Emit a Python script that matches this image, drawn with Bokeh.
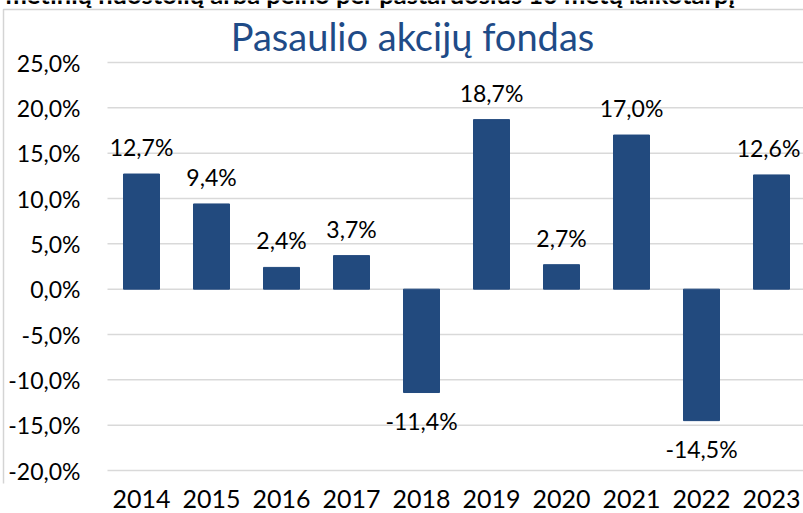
from bokeh.plotting import figure
from bokeh.models import Range1d, FixedTicker, ColumnDataSource
from bokeh.core.properties import value
from bokeh.embed import file_html
from bokeh.resources import INLINE

years = ["2014", "2015", "2016", "2017", "2018", "2019", "2020", "2021", "2022", "2023"]
returns = [12.7, 9.4, 2.4, 3.7, -11.4, 18.7, 2.7, 17.0, -14.5, 12.6]
y_ticks = [-20, -15, -10, -5, 0, 5, 10, 15, 20, 25]
title_text = "Pasaulio akcijų fondas"
top_text = "metinių nuostolių arba pelno per pastaruosius 10 metų laikotarpį"

FONT = "Lato"
BAR = "#224A7E"
GRID = "#d9d9d9"

W, H = 803, 513
FRAME_BOTTOM = 483          # pixel row of the frame bottom (x axis sits below)
CAT_PX = 70                 # pixels per category
FIRST_CAT_PX = 106          # left edge of first category slot
PX_PER_UNIT = 408 / 45      # pixels per percentage point


def xd(px):
    return (px - FIRST_CAT_PX) / CAT_PX - 0.5


def yd(py):
    return 25 - (py - 62) / PX_PER_UNIT


def pct(v):
    return ("%.1f%%" % v).replace(".", ",")


xs = list(range(len(years)))
src = ColumnDataSource(dict(
    x=xs,
    top=returns,
    label=[pct(v) for v in returns],
    yoff=[-27 if v >= 0 else 28 for v in returns],
    xoff=[0] * (len(xs) - 1) + [-3],
))

p = figure(width=W, height=H, output_backend="svg", toolbar_location=None,
           x_range=Range1d(xd(0), xd(W)), y_range=Range1d(yd(FRAME_BOTTOM), yd(0)),
           min_border_left=0, min_border_right=0, min_border_top=0, min_border_bottom=H - FRAME_BOTTOM,
           background_fill_color="white", border_fill_color="white")
p.outline_line_color = None
p.grid.visible = False
p.yaxis.visible = False

# chart border (light grey box, partly outside the window)
p.line(x=[xd(3), xd(3), xd(W + 20)], y=[yd(H + 20), yd(9), yd(9)],
       line_color="#d4d4d4", line_width=1.5)

# horizontal gridlines
p.segment(x0=[xd(107)] * len(y_ticks), x1=[xd(W + 5)] * len(y_ticks),
          y0=y_ticks, y1=y_ticks, line_color=GRID, line_width=1.5)

# y tick labels
p.text(x=[xd(80)] * len(y_ticks), y=y_ticks, text=[pct(t) for t in y_ticks],
       text_font=value(FONT), text_font_size="23px", text_color="#000000",
       text_align="right", text_baseline="middle")

# bars and value labels
p.vbar(x="x", top="top", bottom=0, width=36 / CAT_PX, source=src, color=BAR)
p.text(x="x", y="top", text="label", x_offset="xoff", y_offset="yoff", source=src,
       text_font=value(FONT), text_font_size="23px", text_color="#000000",
       text_align="center", text_baseline="middle")

# title
p.text(x=[xd(412)], y=[yd(35)], text=[title_text],
       text_font=value(FONT), text_font_size="38px", text_color="#1F4B87",
       text_align="center", text_baseline="middle")

# cut-off header line above the chart
p.text(x=[xd(5)], y=[yd(-7)], text=[top_text],
       text_font=value(FONT), text_font_size="25.5px", text_font_style="bold",
       text_color="#000000", text_align="left", text_baseline="alphabetic")

# x axis with year labels
ax = p.xaxis[0]
ax.ticker = FixedTicker(ticks=xs)
ax.major_label_overrides = {i: y for i, y in enumerate(years)}
ax.axis_line_color = None
ax.major_tick_line_color = None
ax.minor_tick_line_color = None
ax.major_tick_out = 0
ax.major_tick_in = 0
ax.major_label_text_font = FONT
ax.major_label_text_font_size = "25px"
ax.major_label_text_color = "#000000"
ax.major_label_standoff = 6

open("out.html", "w").write(file_html(p, INLINE))
